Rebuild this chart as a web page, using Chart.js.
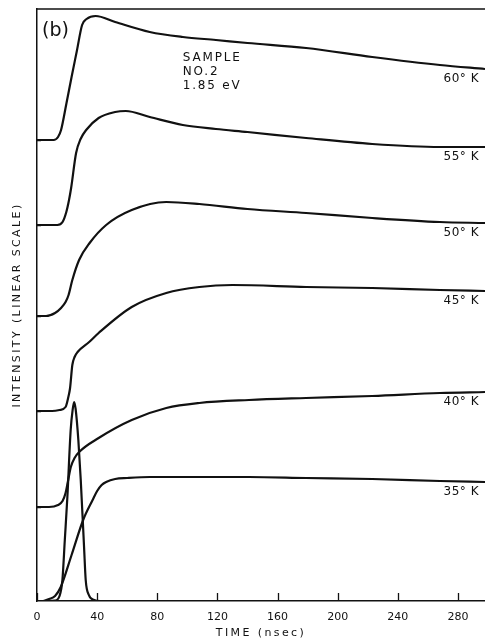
<!DOCTYPE html>
<html>
<head>
<meta charset="utf-8">
<script src="https://cdn.jsdelivr.net/npm/chart.js@4.4.1/dist/chart.umd.min.js"></script>
<style>
  html, body { margin: 0; padding: 0; background: #fff; }
  #wrap { width: 485px; height: 641px; }
</style>
</head>
<body>
<div id="wrap"><canvas id="decayChart"></canvas></div>
<script>
// Time axis (nsec) and intensity (arbitrary linear units, curves offset vertically)
const t60 = [0, 11, 14, 16, 19.5, 23, 26.5, 30, 33, 39, 52, 75, 97, 119, 140, 179, 223, 268, 298];
const i60 = [46.1, 46.1, 46.4, 47.1, 49.7, 52.4, 55.0, 57.6, 58.2, 58.5, 57.9, 56.9, 56.4, 56.1, 55.8, 55.3, 54.4, 53.6, 53.2];

const t55 = [0, 13.5, 17, 19.5, 21.3, 22.7, 26, 29, 32.7, 41, 52, 59, 75, 97, 119, 140, 179, 223, 268, 298];
const i55 = [37.6, 37.6, 37.9, 38.9, 40.1, 41.3, 44.8, 46.2, 47.1, 48.3, 48.9, 49.0, 48.4, 47.6, 47.2, 46.9, 46.3, 45.7, 45.4, 45.4];

const t50 = [0, 6, 12, 16, 19, 21, 23.5, 28, 35, 46, 63, 86, 108, 140, 179, 223, 268, 298];
const i50 = [28.5, 28.5, 28.8, 29.3, 29.9, 30.6, 32.1, 34.1, 35.8, 37.6, 39.1, 39.9, 39.7, 39.2, 38.8, 38.3, 37.9, 37.8];

const t45 = [0, 10, 15, 19, 21, 22, 23.5, 25, 27, 34.7, 41, 63, 86, 108, 130, 179, 223, 268, 298];
const i45 = [19.0, 19.0, 19.1, 19.4, 20.5, 21.3, 23.6, 24.4, 24.9, 25.9, 26.8, 29.4, 30.8, 31.4, 31.6, 31.4, 31.3, 31.1, 31.0];

const t40 = [0, 8, 14, 17, 19, 20.5, 22.5, 25, 28, 41, 63, 86, 108, 141, 179, 223, 268, 298];
const i40 = [9.4, 9.4, 9.6, 10.0, 10.8, 11.9, 13.4, 14.3, 14.9, 16.3, 18.1, 19.3, 19.8, 20.1, 20.3, 20.5, 20.8, 20.9];

const t35 = [0, 4, 8, 12, 15.8, 23, 30.7, 37, 40, 43, 46, 52, 60, 75, 108, 141, 179, 223, 268, 298];
const i35 = [0, 0, 0.2, 0.5, 1.4, 4.6, 8.1, 10.1, 11.0, 11.6, 11.9, 12.2, 12.3, 12.4, 12.4, 12.4, 12.3, 12.2, 12.0, 11.9];

// excitation pulse
const tPulse = [0, 12, 15, 16.9, 18.5, 20.2, 22.4, 23.7, 24.7, 25.7, 27.5, 29.1, 31.3, 32.4, 34.5, 38, 42, 298];
const iPulse = [0, 0.05, 0.5, 2.1, 6.1, 10.4, 17.1, 19.1, 19.9, 19.2, 16.1, 12.1, 5.4, 2.1, 0.6, 0.1, 0, 0];

const curveLabels = ['60° K', '55° K', '50° K', '45° K', '40° K', '35° K'];
const baselines = [9.4, 19.0, 28.5, 37.6, 46.1];
const sampleNote = ['SAMPLE', 'NO.2', '1.85 eV'];

const ink = '#111';
const FONT = '"DejaVu Sans", "Liberation Sans", sans-serif';

const series = [
    { t: t60, v: i60 },
    { t: t55, v: i55 },
    { t: t50, v: i50 },
    { t: t45, v: i45 },
    { t: t40, v: i40 },
    { t: t35, v: i35 },
    { t: tPulse, v: iPulse }
];

const toPoints = (ts, vs) => ts.map((t, k) => ({ x: t, y: vs[k] }));

const decor = {
    id: 'decor',
    beforeDraw(chart) {
        // wide lettering for the axis titles
        chart.ctx.letterSpacing = '2.4px';
    },
    beforeDatasetsDraw(chart) {
        chart.ctx.letterSpacing = '0px';
    },
    afterDraw(chart) {
        const { ctx, chartArea, scales: { x, y } } = chart;
        ctx.save();
        ctx.strokeStyle = ink;
        ctx.lineWidth = 1.5;
        ctx.beginPath();
        ctx.moveTo(chartArea.left, chartArea.top);
        ctx.lineTo(chartArea.right, chartArea.top);
        ctx.stroke();

        // inward tick marks
        ctx.lineWidth = 1.3;
        ctx.beginPath();
        x.ticks.forEach(tk => {
            const px = Math.round(x.getPixelForValue(tk.value)) + 0.5;
            ctx.moveTo(px, chartArea.bottom);
            ctx.lineTo(px, chartArea.bottom - 8);
        });
        y.ticks.forEach(tk => {
            const py = Math.round(y.getPixelForValue(tk.value)) + 0.5;
            ctx.moveTo(chartArea.left, py);
            ctx.lineTo(chartArea.left + 4, py);
        });
        ctx.stroke();

        ctx.fillStyle = ink;
        ctx.font = '12px ' + FONT;
        ctx.letterSpacing = '0.5px';
        ctx.textAlign = 'right';
        ctx.textBaseline = 'middle';
        curveLabels.forEach((lab, i) => {
            const v = series[i].v;
            ctx.fillText(lab, chartArea.right - 6, y.getPixelForValue(v[v.length - 1]) + 10);
        });

        ctx.textAlign = 'left';
        ctx.letterSpacing = '1.8px';
        sampleNote.forEach((line, i) => {
            ctx.fillText(line, x.getPixelForValue(97), chartArea.top + 49 + i * 14);
        });

        ctx.letterSpacing = '0px';
        ctx.font = '19px ' + FONT;
        ctx.fillText('(b)', chartArea.left + 5, chartArea.top + 22);
        ctx.restore();
    }
};

const ctx = document.getElementById('decayChart').getContext('2d');
new Chart(ctx, {
    type: 'scatter',
    data: {
        datasets: series.map(s => ({
            data: toPoints(s.t, s.v),
            showLine: true,
            borderColor: ink,
            borderWidth: 2.2,
            pointRadius: 0,
            cubicInterpolationMode: 'monotone',
            fill: false
        }))
    },
    options: {
        responsive: true,
        maintainAspectRatio: false,
        animation: false,
        layout: { padding: { top: 9, right: 0, left: 0, bottom: 0 } },
        plugins: {
            legend: { display: false },
            tooltip: { enabled: false }
        },
        scales: {
            x: {
                type: 'linear',
                min: 0,
                max: 298,
                afterFit: s => { s.height = 40; },
                ticks: {
                    stepSize: 40,
                    includeBounds: false,
                    maxRotation: 0,
                    padding: 10,
                    z: 1,
                    color: ink,
                    font: { family: FONT, size: 11 }
                },
                grid: { drawOnChartArea: false, drawTicks: false },
                border: { color: ink, width: 1.5 },
                title: {
                    display: true,
                    text: 'TIME (nsec)',
                    color: ink,
                    font: { family: FONT, size: 11 },
                    padding: { top: 0, bottom: 1 }
                }
            },
            y: {
                type: 'linear',
                min: 0,
                max: 59.2,
                afterFit: s => { s.width = 37; },
                afterBuildTicks: s => { s.ticks = baselines.map(v => ({ value: v })); },
                ticks: { display: false },
                grid: { drawOnChartArea: false, drawTicks: false },
                border: { color: ink, width: 1.5 },
                title: {
                    display: true,
                    text: 'INTENSITY (LINEAR SCALE)',
                    color: ink,
                    font: { family: FONT, size: 11 },
                    padding: { top: 11, bottom: 0 }
                }
            }
        }
    },
    plugins: [decor]
});
</script>
</body>
</html>
